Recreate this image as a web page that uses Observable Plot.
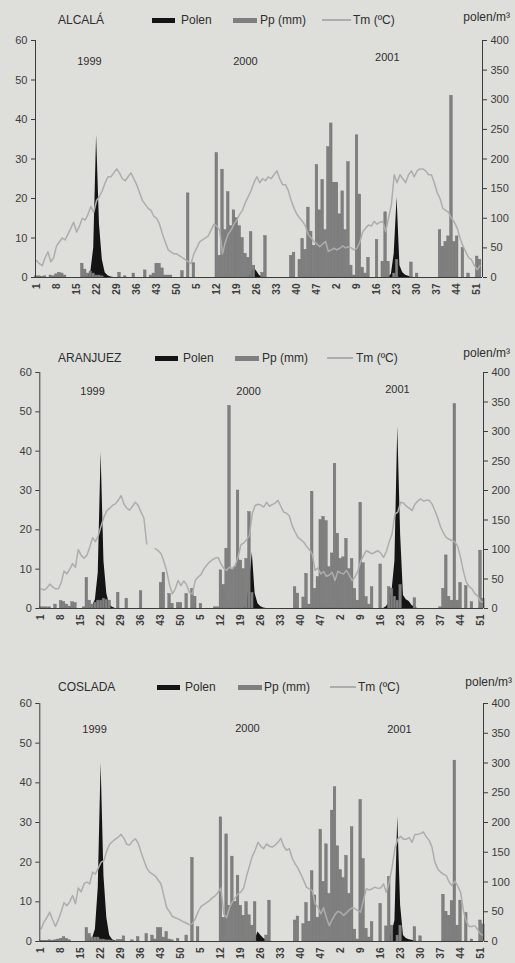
<!DOCTYPE html>
<html><head><meta charset="utf-8">
<script src="https://cdn.jsdelivr.net/npm/d3@7"></script>
<script src="https://cdn.jsdelivr.net/npm/@observablehq/plot@0.6"></script>
<style>
body{margin:0;background:#dededb;width:515px;height:963px;overflow:hidden;position:relative;font-family:"Liberation Sans",Arial,sans-serif;color:#2e2e2e}
.abs{position:absolute}
.t{position:absolute;font-size:12px;line-height:14px;white-space:nowrap;color:#2e2e2e}
</style></head><body>
<script>
const stations=["ALCALÁ","ARANJUEZ","COSLADA"];
const yearLabels=["1999","2000","2001"];
const weekLabels=["1","8","15","22","29","36","43","50","5","12","19","26","33","40","47","2","9","16","23","30","37","44","51"];
const leftTicks=[0,10,20,30,40,50,60];
const rightTicks=[0,50,100,150,200,250,300,350,400];

// Alcalá
const ppAlcala=[0.3,0.3,0.2,0.3,0,0.5,0.3,0.8,1.2,1.0,
0.5,0,0,0,0,0,3.5,2.0,1.0,1.5,
1.0,0.5,0.5,0.3,0,0,0,0,0,1.2,
0,0.3,0,0,1.0,0,0,0,1.8,0,
0.5,1.0,3.5,3.5,2.3,0.5,0.5,0.5,0,0,
0,1.6,0,21.3,0,3.6,0,0,0,0,
0,0,0,31.5,5.5,27.3,12,21.6,13,17,
15,13,10,6,5,11.5,3,0,0,1.2,
10.5,0,0,0,0,0,0,0,0,5.5,
6.3,0,4.5,9.8,7,17.7,11.6,8,28.5,17,
24.7,12,33,39,24,24,16,21.8,12,29.2,
3,0.5,36,21,2.5,1,5,0,0,9.5,
0,4,16.5,4,0,1,4.5,0,0,0,
0,3.8,0,1,0,0,0,0,0,0,
0,12,7.8,9,10.4,46,9,10.4,0,7.5,
0,1,0,0,5.3,4.5];
const polAlcala=[0,0,0,0,0,0,0,0,0,0,
0,0,0,0,0,0,0,1,2,10,
50,240,90,30,8,3,1,0,0,0,
0,0,0,0,0,0,0,0,0,0,
0,0,0,0,0,0,0,0,0,0,
0,0,0,0,0,0,0,0,0,0,
0,0,0,0,0,0,0,0,0,0,
0,0,0,0,2,5,17,10,3,1,
0,0,0,0,0,0,0,0,0,0,
0,0,0,0,0,0,0,0,0,0,
0,0,0,0,0,0,0,0,0,0,
0,0,0,0,0,0,0,0,0,0,
0,0,0,1,5,40,135,20,8,4,
2,1,0,0,0,0,0,0,0,0,
0,0,0,0,0,0,0,0,0,0,
0,0,0,0,0,0];
const tmAlcala=[4.3,3.5,3.0,5,6.5,4.0,5,8,9,10,
9.5,11,12.5,14,11.5,13,15,14.5,16,18,
16.5,19.5,20.5,22,24,25.5,25.5,26.5,27.5,26.5,
25,24.5,25.5,26.5,25,23.5,21.5,19.5,18.5,17.5,
17,15.5,15,13.5,11,9,7,6.5,6,6,
5.5,5,4.5,4,3.5,6,7.5,9,9.5,10,
10.5,12,13.5,13,12,6,9,11,12,13.5,
14.5,16,17,19,20.5,22,24,25.5,24,25,
24.5,25.5,25,26,27,25,23.5,23.5,22,19.5,
17.5,16,15,14.2,13,10.8,10,9.1,8.5,7.8,
8.5,9.1,6.6,7,7.4,7,7.4,8,7.5,7.8,
7.5,7,7.4,9,11.6,12.5,13.3,13,14.2,13.5,
14,14.2,11.6,15,18.4,26,24,26,25,24,
26,27,25.5,27,27.5,27.5,27,26,26,24,
21.5,20,17.5,17,16.5,15,14,12.5,10,8,
6.5,5,4.5,3,2,3];

// Aranjuez
const ppAranjuez=[0.3,0.3,0.3,0.3,0,1,0,1.9,1.6,1,
0.5,1.6,1.4,0,0,0.3,7.8,2,1,1.5,
2,2,2.5,2.2,2,0,0,4,0,0,
2.5,0,0,0,0,4.4,0,0,0,0,
0,0,6.5,9.1,0,3.7,1.2,0,1.4,1.4,
0,3.7,0,5,3,0,1.2,0,0,0,
0,0.3,0.3,9.7,6,15.2,51.5,9.8,10.5,30,
12.2,10,12.6,24.5,4,0,0,0,0,0,
0,0,0,0,0,0,0,0,0,5.4,
3.8,0,2.8,8.8,1,29.7,5,8,22.5,23.3,
22.2,10.5,14,36.8,19,12.6,13,17.7,10,12.6,
5,2,26.9,11.5,2.9,1,5.4,0,0,11.2,
0,0,5.4,5,3,2,6,0,0,0,
0,2.6,0,0,0,0,0,0,0,0,
0.3,5,13.5,3,2,52,2,6.5,0,5.7,
0,1.6,0,0,14.7,2.5];
const polAranjuez=[0,0,0,0,0,0,0,0,0,0,
0,0,0,0,0,0,0,0,3,15,
60,265,80,25,6,2,0,0,0,0,
0,0,0,0,0,0,0,0,0,0,
0,0,0,0,0,0,0,0,0,0,
0,0,0,0,0,0,0,0,0,0,
0,0,0,0,0,0,0,0,0,0,
0,0,5,40,95,25,8,3,1,0,
0,0,0,0,0,0,0,0,0,0,
0,0,0,0,0,0,0,0,0,0,
0,0,0,0,0,0,0,0,0,0,
0,0,0,0,0,0,0,0,0,0,
0,3,10,30,80,308,125,22,15,12,
5,2,0,0,0,0,0,0,0,0,
0,0,0,0,0,0,0,0,0,0,
0,0,0,0,0,0];
const tmAranjuez=[5,4.7,5.2,6.2,5.5,5,5,6.5,9.5,8.8,
10,11.4,10.5,15,13.5,12.8,13.5,15.5,18,17,
18.5,21,23.2,24.9,25.5,26.2,26.6,27.5,28.7,26.6,
25.5,25,26,27,26.2,24.5,23,16.4,null,null,
15.2,14.7,13.9,12,9.5,6,3.7,5,7.1,5.8,
7,6,4,3.7,7.1,8,8.6,10,11,11.8,
12.4,12.8,13,11.4,10.2,9.7,10.5,10.2,11,13,
16.2,16.7,17.5,18.6,24.2,26.2,26.5,26.3,25.8,27,
26,26.4,26.8,27.5,26,24.5,24.2,23.5,21,19.5,
18.1,17.5,16.9,15.8,15,13.9,9.7,10.3,8.8,9.4,
8.2,8.5,9.2,7.1,9.5,9,8.8,9.7,8.5,7.1,
8,9.5,12,13.5,14.7,14.3,13.9,14.3,14.7,14.1,
13,14.5,17,19,24,24.5,27,26.8,26,25.5,
24.9,26.5,27.3,27.9,27.3,27.5,27.5,26.6,24.9,23,
20.8,19.2,18,17.6,17.3,16.9,15.8,13,9.5,6.7,
5.6,5,3.8,3.2,1.8,1.6];

// Coslada
const ppCoslada=[0.2,0.2,0.2,0.3,0.2,0.3,0.5,0.7,1.1,0.7,
0.3,0,0,0,0,0,3.4,1.9,1,1,
1,0.5,0.5,0.3,0.3,0.2,0,0.4,0.4,1.3,
0,0,0.3,0,1.1,0,0,1.9,0,1.5,
0.5,3.4,3.4,1,2.4,0.5,0.3,0,0.7,0,
0,1.5,0,21.1,0,3.6,0,0,0,0,
0,0,0,31.3,6,27,9,21.4,10,16.6,
9,6.5,9.9,6.6,4,9.9,0,0,0,1.5,
10.3,0,0,0,0,0,0,0,0,5.3,
6.3,0,4.4,9.7,5,17.7,11.6,6,28.2,15,
24.5,12,33,38.9,24,18,16,21.6,12,28.8,
3,0.5,35.7,20.8,3.2,1,4.9,0,0,9.5,
0,3.8,16.3,4,0,1.5,4,0,0,0,
0,3.6,0,1.3,0,0,0,0,0,0,
0,11.8,7.5,6.5,10.2,45.6,4,10.3,0,7.2,
0,0.5,0,0,5.3,4.3];
const polCoslada=[0,0,0,0,0,0,0,0,0,0,
0,0,0,0,0,0,0,1,5,20,
90,300,110,40,10,3,1,0,0,0,
0,0,0,0,0,0,0,0,0,0,
0,0,0,0,0,0,0,0,0,0,
0,0,0,0,0,0,0,0,0,0,
0,0,0,0,0,0,0,0,0,0,
0,0,0,0,1,3,16,10,5,2,
1,0,0,0,0,0,0,0,0,0,
0,0,0,0,0,0,0,0,0,0,
0,0,0,0,0,0,0,0,0,0,
0,0,0,0,0,0,0,0,0,0,
0,0,3,15,35,210,60,10,5,3,
2,1,0,0,0,0,0,0,0,0,
0,0,0,0,0,0,0,0,0,0,
0,0,0,0,0,0];
const tmCoslada=[3.2,5,6,7.4,5.5,3.8,5.5,7.5,9.8,9,
10,11.6,9.5,13.5,12.5,14.5,15,14.5,17.5,17,
18.5,20,20.4,22.9,24.5,25.2,25.8,26.3,27,26,
24.5,24.3,25.3,25.9,24.8,22.5,20.5,18.5,17.5,17,
16.5,15.5,14.5,11.5,8.5,7.5,6.3,6,5.7,5.3,
4.9,4.6,4.2,4.5,5.7,7.5,8.8,9.3,9.8,10.3,
11,11.5,12.4,13.5,7,6,8.5,10,11,12,
12.5,13.5,16.5,19,21.5,23,25,24,23.4,24.6,
24,23.8,24.3,25,26,24,23,23.4,21,19.6,
18.5,17,15.4,13.7,13.2,12.9,9.5,8.7,7,8.5,
6,4,5.5,6.8,7.6,7.3,6.6,7.2,8,8.5,
8.3,7.8,7.4,10.5,13.3,13,13.3,13.7,13.4,13.5,
14.5,12.4,15,18.7,23.5,25.8,26.5,25.8,25.8,26.2,
25,27,27,27.2,27.6,26.4,25.5,23.8,20,18.3,
17.5,17,16.6,15,14.1,15.2,14,12.5,7.8,5,
3.8,3.8,4,3,1.9,1.5];

const series=[[ppAlcala,polAlcala,tmAlcala],[ppAranjuez,polAranjuez,tmAranjuez],[ppCoslada,polCoslada,tmCoslada]];

const layout=[
 {top:40,bottom:277,left:35,right:482,x0:36,x154:476.7,
  lgY:20,unY:17,unR:5,title:58,polSw:152,polTx:181,ppSw:233,ppTx:260,tmLn:322,tmW:29,tmTx:353,
  years:[[18.5,54.7],[73,54.7],[122.6,55.7]]},
 {top:372,bottom:608,left:39.3,right:483,x0:40.7,x154:480,
  lgY:358,unY:353,unR:5,title:58,polSw:155,polTx:183,ppSw:235,ppTx:262,tmLn:327,tmW:26,tmTx:356,
  years:[[18,55.2],[72.7,55.2],[124.9,55.7]]},
 {top:703,bottom:941,left:39.3,right:483,x0:40.7,x154:480,
  lgY:687,unY:682,unR:3,title:58,polSw:157,polTx:185,ppSw:238,ppTx:264,tmLn:330,tmW:26,tmTx:358,
  years:[[18.7,53.4],[72.3,53.6],[125.6,53.4]]}
];

const POL="#141414", PP="#7f7f7f", PPS="#6c6c6c", TM="#adadad", AX="#3c3c3c";
const k=60/400;

function addText(txt,x,y,opts={}){
  const d=document.createElement("div");
  d.className="t"; d.textContent=txt;
  d.style.top=(y-7)+"px";
  if(opts.right!==undefined){d.style.right=opts.right+"px";} else d.style.left=x+"px";
  document.body.appendChild(d);
}
function addBox(x,y,w,h,bg){
  const d=document.createElement("div");
  d.className="abs"; Object.assign(d.style,{left:x+"px",top:(y-h/2)+"px",width:w+"px",height:h+"px",background:bg});
  document.body.appendChild(d);
}

layout.forEach((L,i)=>{
  const [pp,pol,tm]=series[i];
  const step=(L.x154-L.x0)/154;
  const mt=12, mb=30;
  const H=mt+(L.bottom-L.top)+mb;
  const d0=(L.left-L.x0)/step, d1=(L.right-L.x0)/step;
  const idx=d3.range(pp.length);
  const chart=Plot.plot({
    width:515, height:H,
    marginLeft:L.left, marginRight:515-L.right, marginTop:mt, marginBottom:mb,
    x:{type:"linear", domain:[d0,d1]},
    y:{domain:[0,60]},
    style:{background:"transparent", color:AX, fontFamily:"Liberation Sans, Arial, sans-serif", fontSize:"11px", overflow:"visible"},
    marks:[
      Plot.areaY(idx,{x:d=>d, y:d=>pol[d]*k, fill:POL, curve:"linear"}),
      Plot.rect(idx.filter(d=>pp[d]>0),{x1:d=>d-0.46, x2:d=>d+0.46, y1:0, y2:d=>pp[d], fill:PP, stroke:PPS, strokeWidth:0.4}),
      Plot.lineY(idx,{x:d=>d, y:d=>tm[d], stroke:TM, strokeWidth:1.5}),
      Plot.ruleY([0],{stroke:AX, strokeWidth:1}),
      Plot.ruleX([d0,d1],{y1:0, y2:60, stroke:AX, strokeWidth:1}),
      Plot.axisY({ticks:leftTicks, anchor:"left", tickSize:4, tickPadding:4, label:null}),
      Plot.axisY({ticks:rightTicks.map(p=>p*k), anchor:"right", tickSize:4, tickPadding:4, tickFormat:d=>Math.round(d/k), label:null}),
      Plot.axisX({ticks:d3.range(0,155,7), anchor:"bottom", tickSize:0, tickPadding:6, tickRotate:-90, tickFormat:d=>weekLabels[Math.round(d/7)], label:null, fontWeight:"bold", fontSize:10}),
      Plot.text(yearLabels,{x:(d,j)=>L.years[j][0], y:(d,j)=>L.years[j][1], text:d=>d, fontSize:11, fill:"#2e2e2e"})
    ]
  });
  chart.style.position="absolute";
  chart.style.left="0px";
  chart.style.top=(L.top-mt)+"px";
  document.body.appendChild(chart);

  addText(stations[i],L.title,L.lgY);
  addBox(L.polSw,L.lgY,23,5,POL);
  addText("Polen",L.polTx,L.lgY);
  addBox(L.ppSw,L.lgY,24,5,PP);
  addText("Pp (mm)",L.ppTx,L.lgY);
  addBox(L.tmLn,L.lgY,L.tmW,1.4,TM);
  addText("Tm (ºC)",L.tmTx,L.lgY);
  addText("polen/m³",0,L.unY,{right:L.unR});
});
</script>
</body></html>
